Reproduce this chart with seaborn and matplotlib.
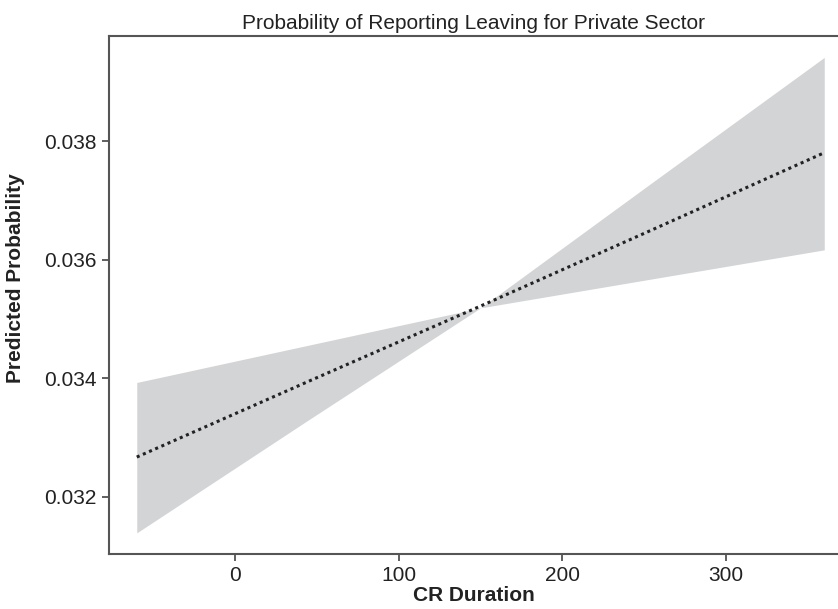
import numpy as np
import pandas as pd
import matplotlib
import matplotlib.pyplot as plt
import seaborn as sns

matplotlib.use('Agg')

# values
cr_duration = [-60, 45, 150, 255, 360]
pred_prob = [0.03267, 0.03395, 0.03522, 0.03651, 0.03781]
ci_flat = [0.03393, 0.03456, 0.03519, 0.03568, 0.03617]
ci_steep = [0.03139, 0.03330, 0.03519, 0.03731, 0.03942]

x_ticks = [0, 100, 200, 300]
y_ticks = [0.032, 0.034, 0.036, 0.038]

sns.set_theme(style='white')
plt.rcParams['font.family'] = ['Liberation Sans', 'DejaVu Sans']

df = pd.DataFrame({'CR Duration': cr_duration, 'pred': pred_prob,
                   'a': ci_flat, 'b': ci_steep})

fig = plt.figure(figsize=(8.38, 6.09), dpi=100)
ax = fig.add_axes([0.1304, 0.0911, 0.8696, 0.8503])

ax.fill_between(df['CR Duration'], df['a'], df['b'], color='#d3d4d6', linewidth=0)
sns.lineplot(data=df, x='CR Duration', y='pred', ax=ax, color='#222222',
             linestyle=(0, (1, 1.2)), linewidth=2.2)

ax.set_xlim(-76.8, 368.4)
ax.set_ylim(0.031041, 0.039787)
ax.set_xticks(x_ticks)
ax.set_xticklabels([str(t) for t in x_ticks])
ax.set_yticks(y_ticks)
ax.set_yticklabels([f'{t:.3f}' for t in y_ticks])

for side in ['left', 'bottom', 'top']:
    ax.spines[side].set_color('#555555')
    ax.spines[side].set_linewidth(1.5)
ax.spines['right'].set_visible(False)

ax.tick_params(axis='both', which='major', length=5, width=1.2, color='#444444',
               labelsize=15, labelcolor='#222222', direction='out',
               bottom=True, left=True, pad=4)

ax.set_title('Probability of Reporting Leaving for Private Sector',
             fontsize=15, color='#222222', pad=5)
ax.set_xlabel('CR Duration', fontsize=15, fontweight='bold', color='#222222', labelpad=1)
ax.set_ylabel('Predicted Probability', fontsize=15, fontweight='bold', color='#222222')
ax.yaxis.set_label_coords(-0.115, 0.532)

fig.savefig('out.png', dpi=100)
